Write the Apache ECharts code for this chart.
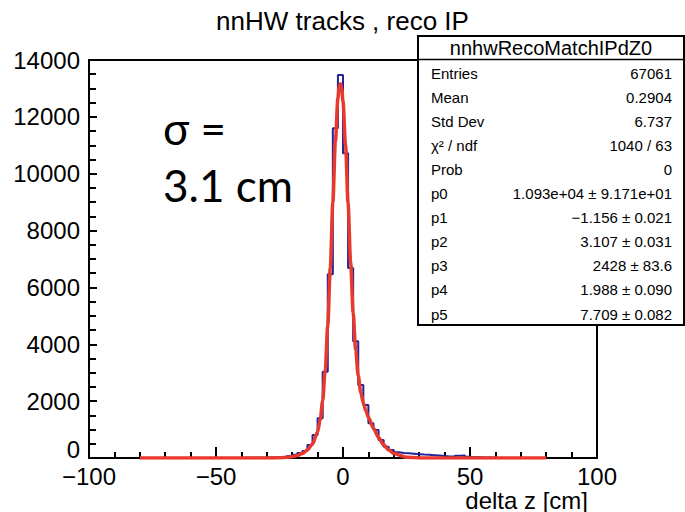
<!DOCTYPE html>
<html>
<head>
<meta charset="utf-8">
<script src="https://cdn.jsdelivr.net/npm/echarts@6/dist/echarts.min.js"></script>
<style>
  html, body { margin: 0; padding: 0; background: #fff; }
  #chart { width: 685px; height: 512px; }
</style>
</head>
<body>
<div id="chart"></div>
<script>
// histogram: 2 cm bins starting at histStart
var histStart = -40
var binWidth = 2
var histCounts = [
  5, 5, 10, 10, 15, 20, 25, 30, 45, 70,
  110, 176, 250, 457, 809, 1397, 3036, 6460, 11599, 13474,
  10720, 6680, 4110, 2568, 1865, 1221, 985, 633, 398, 281,
  200, 180, 165, 150, 135, 120, 110, 100, 85, 70,
  55, 50, 80, 90, 40, 30, 25, 20, 15, 10
]

// fitted curve
var fitX = [-80, -60, -40, -30, -25, -20, -18, -16, -14, -12, -10, -9, -8, -7, -6, -5, -4, -3, -2, -1.5, -1, -0.5,
  0, 1, 2, 3, 4, 5, 6, 7, 8, 9, 10, 12, 14, 16, 18, 20, 25, 30, 40, 60, 80]
var fitY = [0, 0, 0, 0.4, 5, 42, 84, 160, 285, 493, 915, 1330, 2015, 3094, 4661, 6695, 8986, 11134, 12658, 13055, 13168, 12994,
  12548, 11000, 8953, 6875, 5106, 3784, 2890, 2315, 1933, 1657, 1432, 1046, 721, 465, 281, 159, 28, 3, 0, 0, 0]

var statsTitle = 'nnhwRecoMatchIPdZ0'
var statLabels = ['Entries', 'Mean', 'Std Dev', 'χ² / ndf', 'Prob', 'p0', 'p1', 'p2', 'p3', 'p4', 'p5']
var statValues = ['67061', '0.2904', '6.737', '1040 / 63', '0',
  '1.093e+04 ± 9.171e+01', '\u22121.156 ± 0.021', '3.107 ± 0.031', '2428 ± 83.6', '1.988 ± 0.090', '7.709 ± 0.082']

var histData = [[histStart, 0]]
histCounts.forEach(function (c, i) { histData.push([histStart + i * binWidth, c]) })
histData.push([histStart + histCounts.length * binWidth, 0])

var fitData = fitX.map(function (x, i) { return [x, fitY[i]] })

var fontAx = 'Liberation Sans, Arial, sans-serif'

// stats box
var graphics = [
  { type: 'rect', z: 100, shape: { x: 418, y: 36, width: 266, height: 289 },
    style: { fill: '#fff', stroke: '#000', lineWidth: 2 } },
  { type: 'line', z: 101, shape: { x1: 418, y1: 59.5, x2: 684, y2: 59.5 },
    style: { stroke: '#000', lineWidth: 1.5 } },
  { type: 'text', z: 101, style: { text: statsTitle, x: 551, y: 48, textAlign: 'center', textVerticalAlign: 'middle',
    font: '20px ' + fontAx, fill: '#000' } },
  { type: 'text', z: 10, style: { text: 'σ =', x: 163, y: 128, textAlign: 'left', textVerticalAlign: 'middle',
    font: '44px Lato, sans-serif', fill: '#000' } },
  { type: 'text', z: 10, style: { text: '3.1 cm', x: 163, y: 185, textAlign: 'left', textVerticalAlign: 'middle',
    font: '44px Lato, sans-serif', fill: '#000' } },
  { type: 'text', z: 10, style: { text: 'delta z [cm]', x: 588, y: 500, textAlign: 'right', textVerticalAlign: 'middle',
    font: '24px ' + fontAx, fill: '#000' } }
]
statLabels.forEach(function (lab, i) {
  var y = 73 + i * 24.1
  graphics.push({ type: 'text', z: 101, style: { text: lab, x: 431, y: y, textAlign: 'left', textVerticalAlign: 'middle',
    font: '15px ' + fontAx, fill: '#000' } })
  graphics.push({ type: 'text', z: 101, style: { text: statValues[i], x: 672, y: y, textAlign: 'right', textVerticalAlign: 'middle',
    font: '15px ' + fontAx, fill: '#000' } })
})

function minusFmt(v) { return v < 0 ? '\u2212' + Math.abs(v) : String(v) }

var chart = echarts.init(document.getElementById('chart'), null, { renderer: 'svg' })
chart.setOption({
  animation: false,
  backgroundColor: '#fff',
  title: {
    text: 'nnHW tracks , reco IP',
    left: 'center',
    top: 3,
    textStyle: { fontFamily: fontAx, fontSize: 26, fontWeight: 'normal', color: '#000' }
  },
  grid: { left: 89, right: 88, top: 60, bottom: 54, show: true, borderColor: '#000', borderWidth: 2, backgroundColor: 'transparent' },
  xAxis: {
    type: 'value', min: -100, max: 100, interval: 50,
    axisLine: { show: true, onZero: false, lineStyle: { color: '#000', width: 2 } },
    axisTick: { show: true, inside: true, length: 11, lineStyle: { color: '#000', width: 2 } },
    minorTick: { show: true, splitNumber: 5, length: 6, lineStyle: { color: '#000', width: 2 } },
    splitLine: { show: false },
    axisLabel: { formatter: minusFmt, fontFamily: fontAx, fontSize: 24, color: '#000', margin: 6 }
  },
  yAxis: {
    type: 'value', min: 0, max: 14000, interval: 2000,
    axisLine: { show: true, onZero: false, lineStyle: { color: '#000', width: 2 } },
    axisTick: { show: true, inside: true, length: 8, lineStyle: { color: '#000', width: 2 } },
    minorTick: { show: true, splitNumber: 4, length: 7, lineStyle: { color: '#000', width: 2 } },
    splitLine: { show: false },
    axisLabel: {
      formatter: function (v) { return v === 0 ? '{z|0}' : String(v) },
      rich: { z: { fontFamily: fontAx, fontSize: 24, color: '#000', padding: [0, 0, 18, 0] } },
      fontFamily: fontAx, fontSize: 24, color: '#000', margin: 9
    }
  },
  series: [
    {
      name: 'hist', type: 'line', step: 'end', data: histData, symbol: 'none',
      lineStyle: { color: '#23239a', width: 2 }, z: 3
    },
    {
      name: 'fit', type: 'line', data: fitData, symbol: 'none', smooth: 0.3, smoothMonotone: 'x',
      lineStyle: { color: '#e8392c', width: 3.5 }, z: 4
    }
  ],
  graphic: graphics
})
</script>
</body>
</html>
